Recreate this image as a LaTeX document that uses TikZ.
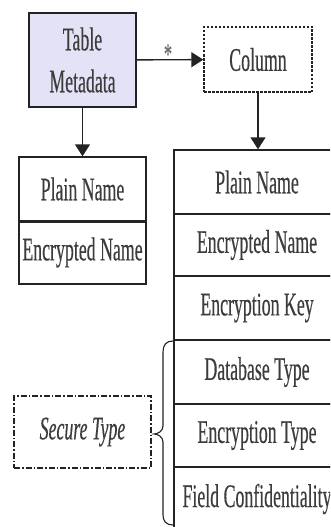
\documentclass[tikz,border=0pt]{standalone}
\usepackage{fontspec}
\setmainfont[FakeStretch=0.54,FakeBold=0.3]{Liberation Serif}
\usetikzlibrary{arrows.meta}
\definecolor{lav}{RGB}{228,226,246}
\definecolor{ink}{RGB}{35,35,35}
\definecolor{txt}{RGB}{60,60,60}
\tikzset{
  box/.style={draw=ink, line width=1.4pt, inner sep=0pt, text=txt, align=center,
    font=\fontsize{33}{42}\selectfont},
  cell/.style={box, minimum width=127pt},
  rcell/.style={box, minimum width=166pt},
  arr/.style={draw=ink, line width=1.4pt, -{Triangle[length=12pt,width=15pt]}},
}
\begin{document}
\begin{tikzpicture}[x=1pt,y=-1pt]
\fill[white] (0,0) rectangle (330,527);
\useasboundingbox (0,0) rectangle (330,527);
\clip (0,0) rectangle (330,527);
% top boxes
\node[box, fill=lav, minimum width=107pt, minimum height=94pt] (tm) at (82.5,60) {Table\\Metadata};
\node[box, dashed, dash pattern=on 2.5pt off 1.5pt, minimum width=108pt, minimum height=65pt] (col) at (258,59.5) {Column};
% left table
\node[cell, minimum height=64pt] (lp) at (82.5,189) {Plain Name};
\node[cell, minimum height=63pt] (le) at (82.5,252.5) {Encrypted Name};
\draw[ink, line width=3pt] (lp.south west) -- (lp.south east);
% right table
\node[rcell, minimum height=64pt] (rp) at (257,182) {Plain Name};
\node[rcell, minimum height=62pt] (re) at (257,245) {Encrypted Name};
\node[rcell, minimum height=64pt] (rk) at (257,308) {Encryption Key};
\node[rcell, minimum height=64pt] (rd) at (257,372) {Database Type};
\node[rcell, minimum height=63pt] (rt) at (257,435.5) {Encryption Type};
\node[rcell, minimum height=64pt] (rf) at (257,499) {Field Confidentiality};
% secure type
\node[box, dash pattern=on 6pt off 2pt on 1.5pt off 2pt, minimum width=137pt, minimum height=72pt,
  font=\fontsize{33}{42}\selectfont\itshape] (st) at (82.5,432) {Secure Type};
% arrows
\draw[arr] (tm) -- (col);
\node[text=txt!75, font=\fontsize{30}{30}\selectfont, anchor=base, inner sep=0pt] (star) at (168,64) {*};
\draw[arr] (tm.south) -- (lp.north);
\draw[arr] (col.south) -- (col.south |- rp.north);
% brace
\draw[ink, line width=1.1pt] (173,341) .. controls (166,341) and (163,345) .. (163,352) -- (163,426)
  .. controls (163,431) and (158,434) .. (154,434)
  .. controls (158,434) and (163,437) .. (163,442) -- (163,515)
  .. controls (163,521) and (166,525) .. (173,525);
\end{tikzpicture}
\end{document}
